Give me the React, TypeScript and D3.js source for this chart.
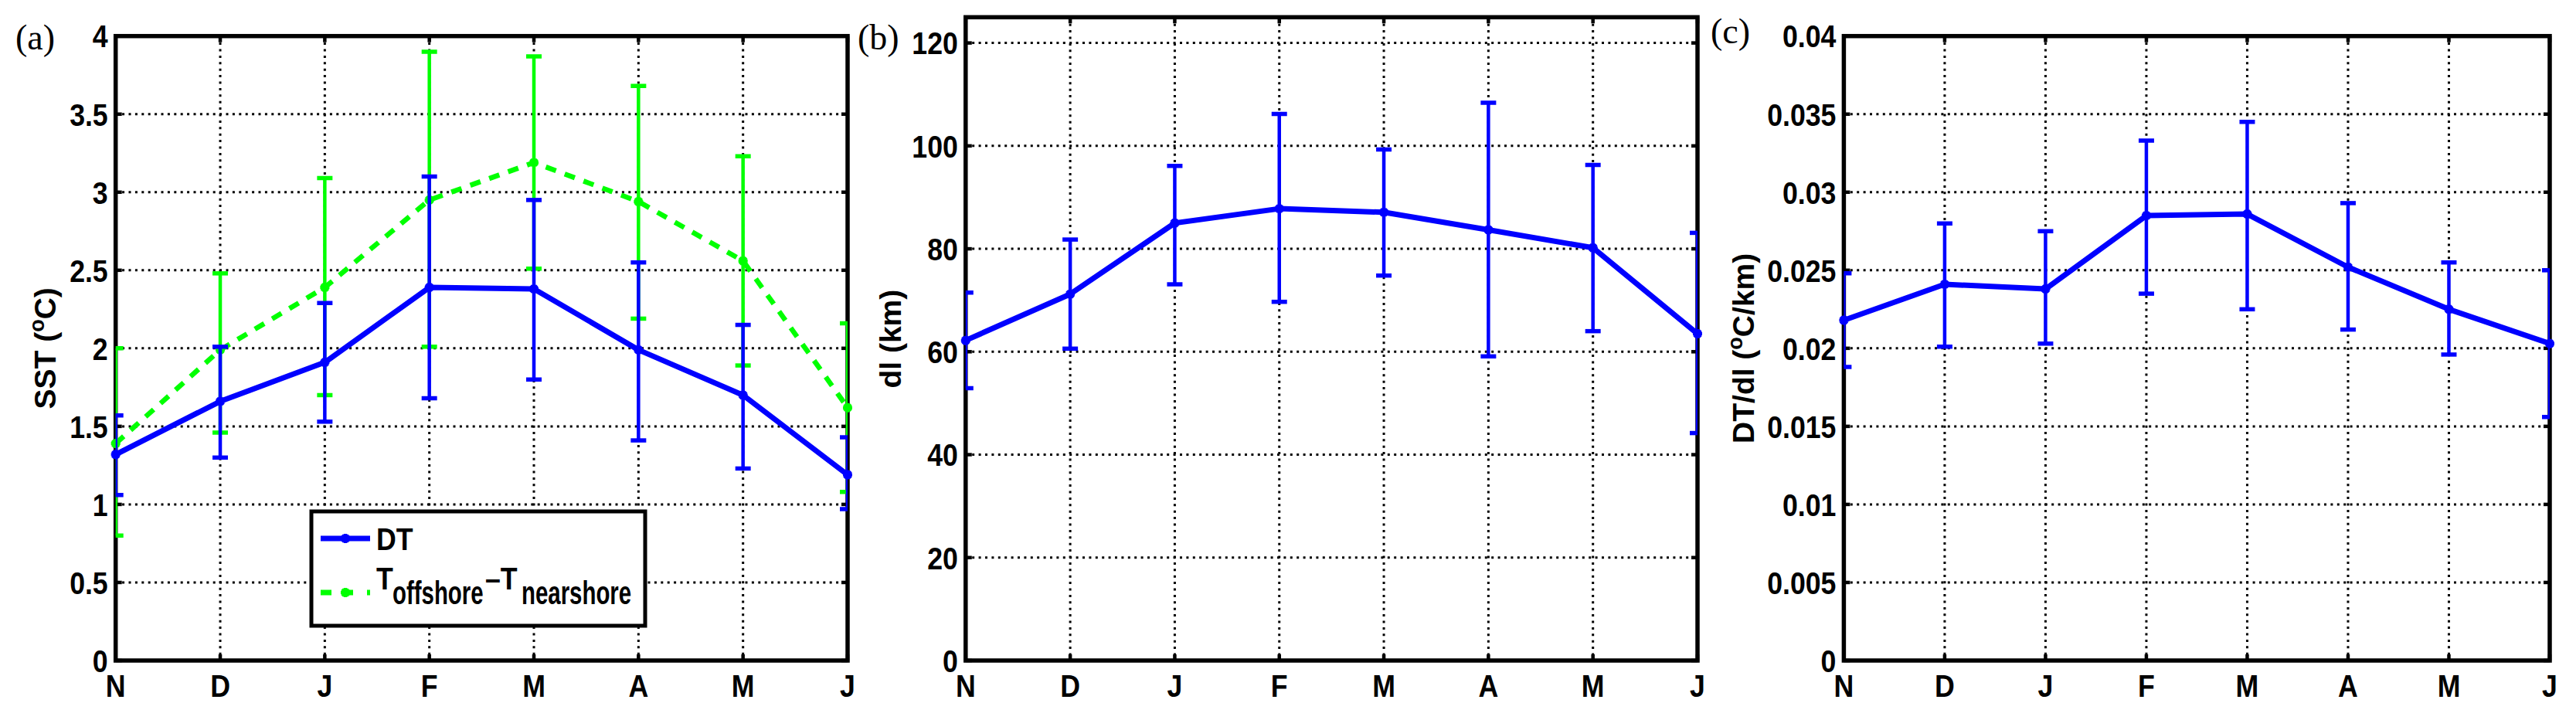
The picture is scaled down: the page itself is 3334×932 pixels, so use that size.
import React from 'react';
import * as d3 from 'd3';

// ---------- data ----------
const months = ['N', 'D', 'J', 'F', 'M', 'A', 'M', 'J'];

const sstTicks = [0, 0.5, 1, 1.5, 2, 2.5, 3, 3.5, 4];
const sstTickLabels = ['0', '0.5', '1', '1.5', '2', '2.5', '3', '3.5', '4'];
const dlTicks = [0, 20, 40, 60, 80, 100, 120];
const dlTickLabels = ['0', '20', '40', '60', '80', '100', '120'];
const gradTicks = [0, 0.005, 0.01, 0.015, 0.02, 0.025, 0.03, 0.035, 0.04];
const gradTickLabels = ['0', '0.005', '0.01', '0.015', '0.02', '0.025', '0.03', '0.035', '0.04'];

// panel (a) DT
const dtMean = [1.32, 1.66, 1.91, 2.39, 2.38, 1.99, 1.70, 1.19];
const dtLow = [1.06, 1.30, 1.53, 1.68, 1.80, 1.41, 1.23, 0.97];
const dtHigh = [1.57, 2.01, 2.29, 3.10, 2.95, 2.55, 2.15, 1.43];
// panel (a) T_offshore - T_nearshore
const toffMean = [1.39, 1.99, 2.39, 2.95, 3.19, 2.94, 2.56, 1.62];
const toffLow = [0.80, 1.46, 1.70, 2.01, 2.51, 2.19, 1.89, 1.08];
const toffHigh = [2.00, 2.48, 3.09, 3.90, 3.87, 3.68, 3.23, 2.16];
// panel (b) dl
const dlMean = [62.2, 71.2, 85.0, 87.8, 87.1, 83.7, 80.2, 63.5];
const dlLow = [52.9, 60.6, 73.1, 69.7, 74.8, 59.1, 64.0, 44.2];
const dlHigh = [71.5, 81.8, 96.1, 106.2, 99.3, 108.4, 96.3, 83.1];
// panel (c) DT/dl
const gradMean = [0.0218, 0.0241, 0.0238, 0.0285, 0.0286, 0.0252, 0.0225, 0.0203];
const gradLow = [0.0188, 0.0201, 0.0203, 0.0235, 0.0225, 0.0212, 0.0196, 0.0156];
const gradHigh = [0.0248, 0.0280, 0.0275, 0.0333, 0.0345, 0.0293, 0.0255, 0.0250];

// ---------- style ----------
const W = 3334;
const H = 932;
const BLUE = '#0000ff';
const GREEN = '#00ff00';
const SANS = '"Liberation Sans", Arial, Helvetica, sans-serif';
const SERIF = '"Liberation Serif", "Times New Roman", serif';
const TICK_SIZE = 41;
const TICK_SX = 0.87;

type Series = { mean: number[]; low: number[]; high: number[]; color: string; dashed?: boolean };

type PanelCfg = {
  id: string;
  left: number;
  right: number;
  top: number;
  bottom: number;
  yMax: number;
  ticks: number[];
  tickLabels: string[];
  series: Series[];
  label: string;
  labelX: number;
  labelY: number;
  ylabelX: number;
  ylabel: React.ReactNode;
  legend?: boolean;
};

function Txt(props: {
  x: number; y: number; size: number; sx?: number; anchor?: string; family?: string;
  weight?: string | number; dy?: string; children: React.ReactNode; fill?: string;
}) {
  const { x, y, size, sx = 1, anchor = 'start', family = SANS, weight = 'bold', dy, children, fill = '#000' } = props;
  return (
    <text
      transform={`translate(${x},${y}) scale(${sx},1)`}
      fontSize={size}
      textAnchor={anchor as any}
      fontFamily={family}
      fontWeight={weight as any}
      dy={dy}
      fill={fill}
    >
      {children}
    </text>
  );
}

function Star({ x, y, color }: { x: number; y: number; color: string }) {
  const r = 6;
  const d = r * 0.72;
  return (
    <path
      d={`M${x - r},${y}H${x + r}M${x},${y - r}V${y + r}M${x - d},${y - d}L${x + d},${y + d}M${x - d},${y + d}L${x + d},${y - d}`}
      stroke={color}
      strokeWidth={4}
      fill="none"
    />
  );
}

function Panel({ cfg }: { cfg: PanelCfg }) {
  const x = d3.scaleLinear().domain([0, months.length - 1]).range([cfg.left, cfg.right]);
  const y = d3.scaleLinear().domain([0, cfg.yMax]).range([cfg.bottom, cfg.top]);
  const idx = d3.range(months.length);
  const clipId = `clip-${cfg.id}`;
  const line = d3
    .line<number>()
    .x((i) => x(i))
    .y((i) => 0);

  const gridDash = '3 5.4';
  const tickLen = 8;
  const capW = 10;

  return (
    <g>
      <defs>
        <clipPath id={clipId}>
          <rect x={cfg.left} y={cfg.top} width={cfg.right - cfg.left} height={cfg.bottom - cfg.top} />
        </clipPath>
      </defs>
      {/* horizontal grid */}
      {cfg.ticks
        .filter((t) => t > 0 && y(t) > cfg.top + 3)
        .map((t) => (
          <line key={`hg${t}`} x1={cfg.left} x2={cfg.right} y1={y(t)} y2={y(t)} stroke="#000" strokeWidth={3} strokeDasharray={gridDash} />
        ))}
      {/* vertical grid */}
      {idx.slice(1, -1).map((i) => (
        <line key={`vg${i}`} x1={x(i)} x2={x(i)} y1={cfg.top} y2={cfg.bottom} stroke="#000" strokeWidth={3} strokeDasharray={gridDash} />
      ))}
      {/* y ticks */}
      {cfg.ticks.map((t) => (
        <g key={`yt${t}`}>
          <line x1={cfg.left} x2={cfg.left + tickLen} y1={y(t)} y2={y(t)} stroke="#000" strokeWidth={4.5} />
          <line x1={cfg.right - tickLen} x2={cfg.right} y1={y(t)} y2={y(t)} stroke="#000" strokeWidth={4.5} />
          <Txt x={cfg.left - 10} y={y(t)} size={TICK_SIZE} sx={TICK_SX} anchor="end" dy="0.36em">
            {cfg.tickLabels[cfg.ticks.indexOf(t)]}
          </Txt>
        </g>
      ))}
      {/* x ticks */}
      {idx.map((i) => (
        <g key={`xt${i}`}>
          <line x1={x(i)} x2={x(i)} y1={cfg.bottom} y2={cfg.bottom - tickLen} stroke="#000" strokeWidth={4.5} />
          <line x1={x(i)} x2={x(i)} y1={cfg.top} y2={cfg.top + tickLen} stroke="#000" strokeWidth={4.5} />
          <Txt x={x(i)} y={cfg.bottom + 47} size={TICK_SIZE} sx={TICK_SX} anchor="middle">
            {months[i]}
          </Txt>
        </g>
      ))}
      {/* axes box */}
      <rect x={cfg.left} y={cfg.top} width={cfg.right - cfg.left} height={cfg.bottom - cfg.top} fill="none" stroke="#000" strokeWidth={5.5} />

      {/* data */}
      {cfg.series.map((s, si) => {
        const path = d3
          .line<number>()
          .x((i) => x(i))
          .y((i) => y(s.mean[i]))(idx);
        return (
          <g key={`s${si}`}>
            <g clipPath={`url(#${clipId})`}>
              {idx.map((i) => (
                <g key={`eb${i}`}>
                  <line x1={x(i)} x2={x(i)} y1={y(s.low[i])} y2={y(s.high[i])} stroke={s.color} strokeWidth={4.5} />
                  <line x1={x(i) - capW} x2={x(i) + capW} y1={y(s.low[i])} y2={y(s.low[i])} stroke={s.color} strokeWidth={5.5} />
                  <line x1={x(i) - capW} x2={x(i) + capW} y1={y(s.high[i])} y2={y(s.high[i])} stroke={s.color} strokeWidth={5.5} />
                </g>
              ))}
              <path
                d={path || ''}
                fill="none"
                stroke={s.color}
                strokeWidth={s.dashed ? 6.5 : 7}
                strokeDasharray={s.dashed ? '14 12' : undefined}
                strokeLinejoin="round"
              />
            </g>
            {idx.map((i) => (
              <Star key={`m${i}`} x={x(i)} y={y(s.mean[i])} color={s.color} />
            ))}
          </g>
        );
      })}

      {/* legend */}
      {cfg.legend && (
        <g>
          <rect x={403} y={662} width={432} height={148} fill="#fff" stroke="#000" strokeWidth={5} />
          <line x1={415} x2={479} y1={697} y2={697} stroke={BLUE} strokeWidth={7} />
          <Star x={447} y={697} color={BLUE} />
          <Txt x={487} y={712} size={TICK_SIZE} sx={TICK_SX}>DT</Txt>
          <line x1={415} x2={479} y1={767} y2={767} stroke={GREEN} strokeWidth={7} strokeDasharray="14 18 10 18" />
          <Star x={447} y={767} color={GREEN} />
          <Txt x={487} y={763} size={TICK_SIZE} sx={TICK_SX}>T</Txt>
          <Txt x={508} y={782} size={42} sx={0.7}>offshore</Txt>
          <Txt x={628} y={763} size={TICK_SIZE} sx={TICK_SX}>–T</Txt>
          <Txt x={675} y={782} size={42} sx={0.7}>nearshore</Txt>
        </g>
      )}

      {/* panel label */}
      <Txt x={cfg.labelX} y={cfg.labelY} size={46} family={SERIF} weight="normal">
        {cfg.label}
      </Txt>
      {/* y label */}
      <text
        transform={`translate(${cfg.ylabelX},${(cfg.top + cfg.bottom) / 2}) rotate(-90)`}
        fontSize={39}
        fontFamily={SANS}
        fontWeight="bold"
        textAnchor="middle"
      >
        {cfg.ylabel}
      </text>
    </g>
  );
}

function Deg() {
  return (
    <>
      <tspan dy={-15} fontSize={27}>o</tspan>
      <tspan dy={15}>C</tspan>
    </>
  );
}

const panels: PanelCfg[] = [
  {
    id: 'a', left: 149.7, right: 1097, top: 46.7, bottom: 855, yMax: 4,
    ticks: sstTicks, tickLabels: sstTickLabels,
    series: [
      { mean: toffMean, low: toffLow, high: toffHigh, color: GREEN, dashed: true },
      { mean: dtMean, low: dtLow, high: dtHigh, color: BLUE },
    ],
    label: '(a)', labelX: 20, labelY: 64, ylabelX: 72,
    ylabel: (<>SST (<Deg />)</>),
    legend: true,
  },
  {
    id: 'b', left: 1249.8, right: 2197, top: 22.3, bottom: 855, yMax: 125,
    ticks: dlTicks, tickLabels: dlTickLabels,
    series: [{ mean: dlMean, low: dlLow, high: dlHigh, color: BLUE }],
    label: '(b)', labelX: 1110, labelY: 64, ylabelX: 1166,
    ylabel: 'dl (km)',
  },
  {
    id: 'c', left: 2386.4, right: 3300, top: 46.7, bottom: 855, yMax: 0.04,
    ticks: gradTicks, tickLabels: gradTickLabels,
    series: [{ mean: gradMean, low: gradLow, high: gradHigh, color: BLUE }],
    label: '(c)', labelX: 2214, labelY: 56, ylabelX: 2270,
    ylabel: (<>DT/dl (<Deg />/km)</>),
  },
];

export default function App() {
  return (
    <svg
      width={W}
      height={H}
      viewBox={`0 0 ${W} ${H}`}
      style={{ position: 'absolute', left: 0, top: 0, background: '#fff' }}
    >
      <rect x={0} y={0} width={W} height={H} fill="#fff" />
      {panels.map((p) => (
        <Panel key={p.id} cfg={p} />
      ))}
    </svg>
  );
}
